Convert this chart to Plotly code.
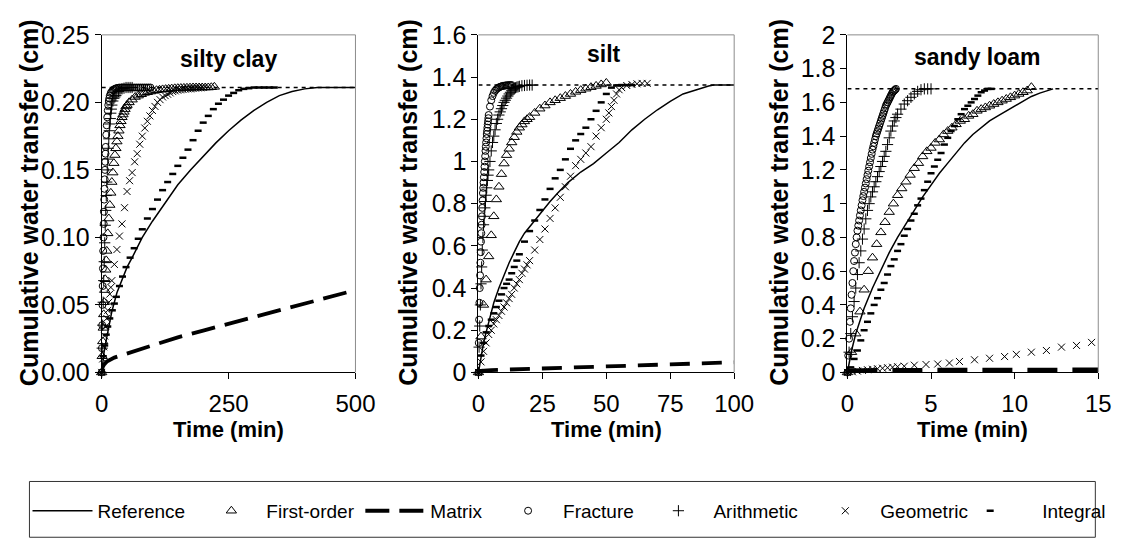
import plotly.graph_objects as go

W, H = 1129, 541

# ---------------- data: silty clay (panel 1) ----------------
SC_EQ = 0.211
sc_ref_t = [0, 2, 5, 10, 20, 30, 40, 50, 60, 80, 100, 125, 150, 175, 200, 225, 250, 275, 300, 325, 350, 375, 400, 425, 450, 500]
sc_ref_y = [0, 0.008, 0.016, 0.026, 0.045, 0.059, 0.069, 0.078, 0.085, 0.100, 0.112, 0.126, 0.139, 0.150, 0.160, 0.170, 0.179, 0.187, 0.194, 0.200, 0.205, 0.208, 0.210, 0.211, 0.211, 0.211]
sc_mat_t = [0, 2, 5, 10, 25, 50, 100, 150, 200, 250, 300, 350, 400, 450, 500]
sc_mat_y = [0, 0.004, 0.006, 0.008, 0.011, 0.014, 0.020, 0.026, 0.031, 0.036, 0.041, 0.046, 0.051, 0.056, 0.061]
sc_frac_t = [0, 0.5, 1, 1.5, 2, 2.5, 3, 3.5, 4, 4.5, 5, 5.5, 6, 6.5, 7, 7.5, 8, 9, 10, 11, 12, 13, 14, 15, 16, 18, 20, 22, 24, 26, 28, 30, 33, 36, 40, 44, 48, 52, 56, 60, 64, 68, 72, 76, 80, 84, 88, 92, 96]
sc_frac_y = [0, 0.018, 0.035, 0.05, 0.064, 0.077, 0.09, 0.1, 0.11, 0.119, 0.128, 0.136, 0.143, 0.15, 0.156, 0.162, 0.167, 0.176, 0.183, 0.189, 0.194, 0.198, 0.201, 0.203, 0.205, 0.207, 0.208, 0.209, 0.2095, 0.21, 0.2103, 0.2106, 0.2108, 0.211, 0.211, 0.211, 0.211, 0.211, 0.211, 0.211, 0.211, 0.211, 0.211, 0.211, 0.211, 0.211, 0.211, 0.211, 0.211]
sc_arith_t = [0, 1, 2, 3, 4, 5, 6, 7, 8, 9, 10, 11, 12, 13, 14, 15, 16, 17, 18, 19, 20, 22, 24, 26, 28, 30, 33, 36, 40, 44, 48, 52, 56, 60]
sc_arith_y = [0, 0.018, 0.035, 0.052, 0.068, 0.082, 0.096, 0.109, 0.12, 0.131, 0.141, 0.15, 0.158, 0.166, 0.173, 0.179, 0.184, 0.188, 0.192, 0.195, 0.198, 0.201, 0.203, 0.204, 0.205, 0.207, 0.208, 0.209, 0.21, 0.2105, 0.211, 0.211, 0.211, 0.211]
sc_first_t = [0, 1, 2, 3, 4, 5, 6, 7, 8, 9, 10, 12, 14, 16, 18, 20, 22, 24, 26, 28, 30, 32, 34, 36, 38, 40, 42, 44, 46, 48, 50,
              54, 60, 66, 72, 78, 84, 90, 96, 102, 108, 114, 120, 126, 132, 138, 144, 150, 156, 162, 168, 174, 180, 186, 192, 198, 204, 210, 216, 222]
sc_first_y = [0, 0.012, 0.023, 0.033, 0.043, 0.052, 0.061, 0.069, 0.076, 0.083, 0.09, 0.103, 0.114, 0.124, 0.133, 0.141, 0.148, 0.155, 0.161, 0.166, 0.171, 0.175, 0.179, 0.183, 0.186, 0.189, 0.191, 0.193, 0.195, 0.197, 0.198,
              0.2, 0.202, 0.204, 0.205, 0.206, 0.207, 0.2075, 0.208, 0.2085, 0.209, 0.2093, 0.2096, 0.2098, 0.21, 0.2102, 0.2104, 0.2105, 0.2106, 0.2107, 0.2108, 0.2109, 0.211, 0.211, 0.211, 0.211, 0.211, 0.211, 0.2112, 0.2115]
sc_geo_t = [0, 2, 4, 6, 8, 10, 12, 14, 16, 18, 20, 25, 30, 35, 40, 45, 50, 55, 60, 65, 70, 75, 80, 85, 90, 95, 100, 105, 110, 115, 120,
            125, 130, 135, 140, 145, 150, 155, 160, 165, 170, 175, 180, 185, 190, 195, 200]
sc_geo_y = [0, 0.01, 0.019, 0.027, 0.034, 0.04, 0.046, 0.052, 0.058, 0.063, 0.068, 0.08, 0.091, 0.101, 0.11, 0.122, 0.134, 0.142, 0.148, 0.156, 0.162, 0.169, 0.175, 0.181, 0.186, 0.19, 0.194, 0.197, 0.2, 0.202, 0.204,
            0.205, 0.206, 0.207, 0.208, 0.2085, 0.209, 0.2093, 0.2096, 0.2098, 0.21, 0.21, 0.2103, 0.2105, 0.2107, 0.2108, 0.211]
sc_int_t = [0, 3, 6, 9, 12, 16, 21, 25, 29, 35, 41, 48, 56, 64, 72, 80, 90, 100, 110, 120, 130, 140, 150, 160, 170, 180, 190, 200, 210, 220,
            230, 240, 250, 260, 270, 280, 290, 300, 310, 320, 330, 340]
sc_int_y = [0, 0.012, 0.02, 0.028, 0.034, 0.04, 0.046, 0.051, 0.056, 0.064, 0.071, 0.078, 0.085, 0.092, 0.099, 0.106, 0.114, 0.121, 0.128, 0.135, 0.141, 0.147, 0.153, 0.159, 0.165, 0.172, 0.179, 0.185, 0.19, 0.195,
            0.199, 0.202, 0.205, 0.207, 0.209, 0.21, 0.2105, 0.211, 0.211, 0.211, 0.211, 0.211]

# ---------------- data: silt (panel 2) ----------------
SI_EQ = 1.362
si_ref_t = [0, 1, 2, 3, 4, 5, 6, 8, 10, 12, 14, 16, 18, 20, 22, 25, 28, 31, 35, 40, 45, 50, 55, 60, 65, 70, 75, 80, 85, 90, 92, 100]
si_ref_y = [0, 0.08, 0.14, 0.19, 0.24, 0.29, 0.33, 0.40, 0.46, 0.52, 0.57, 0.62, 0.66, 0.69, 0.72, 0.77, 0.81, 0.85, 0.9, 0.95, 0.99, 1.04, 1.09, 1.15, 1.2, 1.245, 1.285, 1.32, 1.34, 1.358, 1.362, 1.362]
si_mat_t = [0, 1, 5, 10, 20, 30, 40, 50, 60, 70, 80, 90, 100]
si_mat_y = [0, 0.008, 0.011, 0.013, 0.018, 0.022, 0.026, 0.03, 0.034, 0.038, 0.041, 0.045, 0.048]
si_frac_t = [0, 0.125, 0.25, 0.375, 0.5, 0.625, 0.75, 0.875, 1, 1.125, 1.25, 1.375, 1.5, 1.625, 1.75, 1.875, 2, 2.125, 2.25, 2.375, 2.5, 2.625, 2.75, 2.875, 3, 3.125, 3.25, 3.375, 3.5, 3.625, 3.75, 3.875, 4,
             4.5, 5, 5.5, 6, 6.5, 7, 7.5, 8, 8.5, 9, 9.5, 10, 10.5, 11, 11.5, 12, 12.5, 13]
si_frac_y = [0, 0.14, 0.25, 0.33, 0.4, 0.46, 0.52, 0.57, 0.62, 0.66, 0.7, 0.74, 0.78, 0.815, 0.85, 0.875, 0.9, 0.925, 0.95, 0.975, 1.0, 1.025, 1.05, 1.07, 1.09, 1.11, 1.13, 1.145, 1.16, 1.175, 1.19, 1.205, 1.22,
             1.26, 1.29, 1.31, 1.325, 1.335, 1.342, 1.347, 1.351, 1.354, 1.356, 1.358, 1.359, 1.36, 1.361, 1.361, 1.362, 1.362, 1.362]
si_arith_t = [0, 0.25, 0.5, 0.75, 1, 1.25, 1.5, 1.75, 2, 2.25, 2.5, 2.75, 3, 3.25, 3.5, 3.75, 4,
              4.5, 5, 5.5, 6, 6.5, 7, 7.5, 8, 8.5, 9, 9.5, 10, 10.5, 11, 11.5, 12, 12.5, 13, 13.5, 14, 14.5, 15, 15.5, 16, 17, 18, 19, 20, 21]
si_arith_y = [0, 0.12, 0.22, 0.32, 0.42, 0.5, 0.58, 0.64, 0.7, 0.74, 0.78, 0.81, 0.84, 0.875, 0.91, 0.935, 0.96,
              1.0, 1.05, 1.09, 1.12, 1.15, 1.18, 1.2, 1.22, 1.235, 1.25, 1.265, 1.28, 1.29, 1.3, 1.31, 1.32, 1.328, 1.335, 1.34, 1.345, 1.349, 1.352, 1.354, 1.356, 1.359, 1.36, 1.361, 1.362, 1.362]
si_first_t = [0, 1, 2, 3, 4, 5, 6, 7, 8, 9, 10, 11, 12, 13, 14, 15, 16, 17, 18, 19, 20, 22, 24, 26, 28, 30, 32, 34, 36, 38, 40, 42, 44, 46, 48, 50]
si_first_y = [0, 0.17, 0.32, 0.44, 0.55, 0.65, 0.74, 0.82, 0.88, 0.94, 0.99, 1.03, 1.06, 1.09, 1.115, 1.14, 1.16, 1.175, 1.19, 1.2, 1.21,
              1.23, 1.25, 1.265, 1.28, 1.29, 1.3, 1.31, 1.32, 1.33, 1.338, 1.345, 1.352, 1.358, 1.365, 1.372]
si_geo_t = [0, 1, 2, 3, 4, 5, 6, 7, 8, 9, 10, 11, 12, 13, 14, 15, 16, 17, 18, 19, 20, 22, 24, 26, 28, 30, 32, 34, 36, 38, 40, 42, 44, 46, 48,
            50, 51, 52, 53, 54, 55, 56, 58, 60, 62, 64, 66]
si_geo_y = [0, 0.05, 0.1, 0.14, 0.18, 0.2, 0.23, 0.25, 0.27, 0.29, 0.31, 0.33, 0.35, 0.37, 0.4, 0.42, 0.44, 0.47, 0.49, 0.51, 0.53, 0.58, 0.63, 0.68, 0.73, 0.78, 0.83, 0.88, 0.93, 0.98, 1.01, 1.04, 1.07, 1.12, 1.16,
            1.2, 1.23, 1.26, 1.29, 1.32, 1.34, 1.35, 1.36, 1.365, 1.368, 1.37, 1.37]
si_int_t = [0, 1, 2, 3, 4, 5, 6, 7, 8, 9, 10, 11, 12, 13, 14, 15, 16, 18, 20, 22, 24, 26, 28, 30, 32, 34, 36, 38, 40, 42, 44, 46, 48, 50, 52, 54, 56, 58, 60]
si_int_y = [0, 0.08, 0.14, 0.19, 0.22, 0.25, 0.28, 0.31, 0.34, 0.37, 0.4, 0.42, 0.44, 0.47, 0.5, 0.53, 0.56, 0.62, 0.67, 0.72, 0.77, 0.82, 0.87, 0.92, 0.96, 1.01, 1.06, 1.1, 1.13, 1.16, 1.2, 1.24, 1.28, 1.32, 1.35, 1.36, 1.362, 1.362, 1.362]

# ---------------- data: sandy loam (panel 3) ----------------
SL_EQ = 1.68
sl_ref_t = [0, 0.25, 0.5, 0.75, 1, 1.5, 2, 2.5, 3, 3.5, 4, 4.5, 5, 5.5, 6, 6.5, 7, 7.5, 8, 8.5, 9, 9.5, 10, 10.5, 11, 11.5, 12, 12.3]
sl_ref_y = [0, 0.13, 0.23, 0.31, 0.38, 0.5, 0.61, 0.71, 0.8, 0.88, 0.96, 1.04, 1.11, 1.18, 1.24, 1.3, 1.36, 1.41, 1.45, 1.49, 1.52, 1.55, 1.58, 1.61, 1.635, 1.655, 1.67, 1.68]
sl_mat_t = [0, 1, 2, 4, 6, 8, 10, 12, 15]
sl_mat_y = [0.008, 0.011, 0.012, 0.012, 0.013, 0.013, 0.013, 0.014, 0.014]
sl_frac_t = [0, 0.05, 0.1, 0.15, 0.2, 0.25, 0.3, 0.35, 0.4, 0.45, 0.5, 0.55, 0.6, 0.65, 0.7, 0.75, 0.8, 0.85, 0.9, 0.95,
             1.0, 1.05, 1.1, 1.15, 1.2, 1.25, 1.3, 1.35, 1.4, 1.45, 1.5, 1.55, 1.6, 1.65, 1.7, 1.75, 1.8, 1.85, 1.9, 1.95,
             2.0, 2.05, 2.1, 2.15, 2.2, 2.25, 2.3, 2.35, 2.4, 2.45, 2.5, 2.55, 2.6, 2.65, 2.7, 2.75, 2.8, 2.85, 2.9]
sl_frac_y = [0, 0.1, 0.2, 0.3, 0.38, 0.46, 0.53, 0.6, 0.66, 0.71, 0.76, 0.8, 0.84, 0.87, 0.9, 0.93, 0.96, 0.99, 1.02, 1.045,
             1.07, 1.095, 1.12, 1.145, 1.17, 1.195, 1.22, 1.245, 1.27, 1.295, 1.32, 1.34, 1.36, 1.38, 1.4, 1.415, 1.43, 1.445, 1.46, 1.475,
             1.49, 1.505, 1.52, 1.535, 1.55, 1.565, 1.58, 1.59, 1.6, 1.61, 1.62, 1.63, 1.64, 1.65, 1.66, 1.665, 1.67, 1.675, 1.68]
sl_arith_t = [0, 0.1, 0.2, 0.3, 0.4, 0.5, 0.6, 0.7, 0.8, 0.9, 1.0, 1.1, 1.2, 1.3, 1.4, 1.5, 1.6, 1.7, 1.8, 1.9, 2.0, 2.1, 2.2, 2.3, 2.4, 2.5, 2.6, 2.7, 2.8, 2.9, 3.0,
              3.2, 3.4, 3.6, 3.8, 4.0, 4.2, 4.4, 4.6, 4.8, 5.0]
sl_arith_y = [0, 0.12, 0.23, 0.33, 0.42, 0.5, 0.58, 0.65, 0.72, 0.79, 0.85, 0.91, 0.96, 1.0, 1.04, 1.07, 1.1, 1.13, 1.16, 1.19, 1.22, 1.25, 1.28, 1.31, 1.35, 1.39, 1.43, 1.46, 1.49, 1.51, 1.53,
              1.56, 1.59, 1.61, 1.63, 1.65, 1.665, 1.675, 1.68, 1.68, 1.68]
sl_first_t = [0, 0.25, 0.5, 0.75, 1, 1.25, 1.5, 1.75, 2, 2.25, 2.5, 2.75, 3, 3.25, 3.5, 3.75, 4, 4.25, 4.5, 4.75, 5, 5.25, 5.5, 5.75,
              6, 6.25, 6.5, 6.75, 7, 7.25, 7.5, 7.75, 8, 8.25, 8.5, 8.75, 9, 9.25, 9.5, 9.75, 10, 10.25, 10.5, 10.75, 11]
sl_first_y = [0, 0.12, 0.23, 0.36, 0.49, 0.6, 0.68, 0.76, 0.83, 0.89, 0.95, 1.0, 1.05, 1.09, 1.13, 1.17, 1.21, 1.24, 1.28, 1.31, 1.33, 1.36, 1.38, 1.41,
              1.43, 1.45, 1.47, 1.49, 1.5, 1.52, 1.53, 1.55, 1.56, 1.57, 1.58, 1.59, 1.6, 1.61, 1.62, 1.63, 1.64, 1.65, 1.66, 1.67, 1.69]
sl_geo_t = [0, 0.3, 0.6, 0.9, 1.2, 1.5, 1.8, 2.1, 2.4, 2.7, 3.0, 3.4, 4.0, 4.7, 5.4, 6.1, 6.7, 7.6, 8.5, 9.4, 10.1, 11.0, 11.9, 12.8, 13.7, 14.6]
sl_geo_y = [0, 0.004, 0.008, 0.012, 0.016, 0.019, 0.022, 0.025, 0.028, 0.031, 0.034, 0.037, 0.043, 0.047, 0.05, 0.056, 0.065, 0.075, 0.084, 0.094, 0.107, 0.12, 0.13, 0.15, 0.16, 0.178]
sl_int_t = [0, 0.2, 0.4, 0.6, 0.8, 1.0, 1.2, 1.4, 1.6, 1.8, 2.0, 2.2, 2.4, 2.6, 2.8, 3.0, 3.2, 3.4, 3.6, 3.8, 4.0, 4.2,
            4.4, 4.6, 4.8, 5.0, 5.2, 5.4, 5.6, 5.8, 6.0, 6.2, 6.4, 6.6, 6.8, 7.0, 7.2, 7.4, 7.6, 7.8, 8.0, 8.2, 8.4, 8.6]
sl_int_y = [0, 0.03, 0.08, 0.13, 0.19, 0.25, 0.3, 0.35, 0.4, 0.44, 0.49, 0.53, 0.58, 0.63, 0.67, 0.72, 0.76, 0.81, 0.85, 0.9, 0.94, 0.99,
            1.03, 1.08, 1.13, 1.18, 1.22, 1.26, 1.3, 1.35, 1.39, 1.43, 1.46, 1.5, 1.53, 1.56, 1.58, 1.6, 1.62, 1.64, 1.66, 1.67, 1.68, 1.68]

PANEL_TITLES = ["silty clay", "silt", "sandy loam"]
X_MAX = [500, 100, 15]
Y_MAX = [0.25, 1.6, 2.0]
X_DTICK = [250, 25, 5]
Y_DTICK = [0.05, 0.2, 0.2]
SERIES_NAMES = ["Reference", "First-order", "Matrix", "Fracture", "Arithmetic", "Geometric", "Integral"]

panels = [
    dict(eq=SC_EQ, ref=(sc_ref_t, sc_ref_y), mat=(sc_mat_t, sc_mat_y), frac=(sc_frac_t, sc_frac_y),
         arith=(sc_arith_t, sc_arith_y), first=(sc_first_t, sc_first_y), geo=(sc_geo_t, sc_geo_y), integ=(sc_int_t, sc_int_y),
         matdash="24px,10px", matw=3.8),
    dict(eq=SI_EQ, ref=(si_ref_t, si_ref_y), mat=(si_mat_t, si_mat_y), frac=(si_frac_t, si_frac_y),
         arith=(si_arith_t, si_arith_y), first=(si_first_t, si_first_y), geo=(si_geo_t, si_geo_y), integ=(si_int_t, si_int_y),
         matdash="20px,12px", matw=3.8),
    dict(eq=SL_EQ, ref=(sl_ref_t, sl_ref_y), mat=(sl_mat_t, sl_mat_y), frac=(sl_frac_t, sl_frac_y),
         arith=(sl_arith_t, sl_arith_y), first=(sl_first_t, sl_first_y), geo=(sl_geo_t, sl_geo_y), integ=(sl_int_t, sl_int_y),
         matdash="30px,15px", matw=5),
]

FONT = "Liberation Sans, Arial, sans-serif"
BLACK = "black"

X_DOM = [(97, 357), (483, 745), (861, 1118)]
Y_DOM = (22, 378)

fig = go.Figure()

marker_styles = {
    "First-order": dict(symbol="triangle-up-open", size=9, color=BLACK, line=dict(width=1, color=BLACK)),
    "Fracture": dict(symbol="circle-open", size=7, color=BLACK, line=dict(width=1, color=BLACK)),
    "Arithmetic": dict(symbol="cross-thin", size=8, color=BLACK, line=dict(width=1, color=BLACK)),
    "Geometric": dict(symbol="x-thin", size=7, color=BLACK, line=dict(width=1, color=BLACK)),
    "Integral": dict(symbol="line-ew", size=5, color=BLACK, line=dict(width=2.5, color=BLACK)),
}
legend_ids = {n: ("legend" if i == 0 else f"legend{i+1}") for i, n in enumerate(SERIES_NAMES)}

for i, p in enumerate(panels):
    xa = "x" if i == 0 else f"x{i+1}"
    ya = "y" if i == 0 else f"y{i+1}"
    first = (i == 0)
    fig.add_trace(go.Scatter(x=[0, X_MAX[i]], y=[p["eq"], p["eq"]], mode="lines",
                             line=dict(color=BLACK, width=1.5, dash="4px,4px"),
                             xaxis=xa, yaxis=ya, showlegend=False, hoverinfo="skip"))
    fig.add_trace(go.Scatter(x=p["mat"][0], y=p["mat"][1], mode="lines", name="Matrix",
                             line=dict(color=BLACK, width=p["matw"], dash=p["matdash"]),
                             xaxis=xa, yaxis=ya, legendgroup="Matrix", showlegend=first,
                             legend=legend_ids["Matrix"], cliponaxis=False))
    fig.add_trace(go.Scatter(x=p["ref"][0], y=p["ref"][1], mode="lines", name="Reference",
                             line=dict(color=BLACK, width=1.5),
                             xaxis=xa, yaxis=ya, legendgroup="Reference", showlegend=first,
                             legend=legend_ids["Reference"], cliponaxis=False))
    for key, name in [("integ", "Integral"), ("geo", "Geometric"), ("first", "First-order"),
                      ("arith", "Arithmetic"), ("frac", "Fracture")]:
        fig.add_trace(go.Scatter(x=p[key][0], y=p[key][1], mode="markers", name=name,
                                 marker=marker_styles[name],
                                 xaxis=xa, yaxis=ya, legendgroup=name, showlegend=first,
                                 legend=legend_ids[name], cliponaxis=False))

layout = dict(
    width=W, height=H, margin=dict(l=0, r=0, t=0, b=0),
    paper_bgcolor="white", plot_bgcolor="white",
    font=dict(family=FONT, color=BLACK, size=19),
    showlegend=True,
)

for i in range(3):
    xk = "xaxis" if i == 0 else f"xaxis{i+1}"
    yk = "yaxis" if i == 0 else f"yaxis{i+1}"
    x0, x1 = X_DOM[i]
    layout[xk] = dict(domain=[x0 / W, x1 / W], range=[0, X_MAX[i]], dtick=X_DTICK[i], tick0=0,
                      showline=True, linecolor=BLACK, linewidth=1, ticks="outside", ticklen=6,
                      tickcolor=BLACK, showgrid=False, zeroline=False, ticklabelstandoff=4,
                      tickfont=dict(size=24, family=FONT, color=BLACK),
                      anchor="y" if i == 0 else f"y{i+1}")
    layout[yk] = dict(domain=[1 - Y_DOM[1] / H, 1 - Y_DOM[0] / H], range=[0, Y_MAX[i]], dtick=Y_DTICK[i], tick0=0,
                      showline=True, linecolor=BLACK, linewidth=1, ticks="outside", ticklen=6,
                      tickcolor=BLACK, showgrid=False, zeroline=False,
                      tickfont=dict(size=25, family=FONT, color=BLACK),
                      tickformat=".2f" if i == 0 else "",
                      anchor="x" if i == 0 else f"x{i+1}")

legend_left_px = {"Reference": 21, "First-order": 194, "Matrix": 362, "Fracture": 498,
                  "Arithmetic": 652, "Geometric": 823, "Integral": 954}
legend_itemw = {"Integral": 94}
for name in SERIES_NAMES:
    lid = legend_ids[name]
    layout[lid] = dict(x=legend_left_px[name] / W, xanchor="left", y=1 - 524 / H, yanchor="middle",
                       orientation="h", bgcolor="rgba(0,0,0,0)", borderwidth=0,
                       itemwidth=legend_itemw.get(name, 60),
                       font=dict(size=19, family=FONT, color=BLACK))

fig.update_layout(**layout)

shapes = []
for i in range(3):
    xr = ("x" if i == 0 else f"x{i+1}") + " domain"
    yr = ("y" if i == 0 else f"y{i+1}") + " domain"
    shapes.append(dict(type="line", xref=xr, yref=yr, x0=0, x1=1, y0=1, y1=1, line=dict(color="#8c8c8c", width=1)))
    shapes.append(dict(type="line", xref=xr, yref=yr, x0=1, x1=1, y0=0, y1=1, line=dict(color="#8c8c8c", width=1)))
shapes.append(dict(type="rect", xref="paper", yref="paper", x0=23 / W, x1=1115 / W, y0=-0.02, y1=1 - 493 / H,
                   line=dict(color="#333333", width=1), fillcolor="rgba(0,0,0,0)"))
fig.update_layout(shapes=shapes)

ann = []
title_px = [(227, 47), (612, 42), (994, 45)]
ytitle_x = [22, 411, 791]
for i in range(3):
    x0, x1 = X_DOM[i]
    ann.append(dict(text=PANEL_TITLES[i], x=title_px[i][0] / W, y=1 - title_px[i][1] / H, xref="paper", yref="paper",
                    showarrow=False, xanchor="center", yanchor="middle",
                    font=dict(size=23, family=FONT, color=BLACK, weight="bold")))
    ann.append(dict(text="Time (min)", x=(x0 + x1) / 2 / W, y=1 - 438 / H, xref="paper", yref="paper",
                    showarrow=False, xanchor="center", yanchor="middle",
                    font=dict(size=22, family=FONT, color=BLACK, weight="bold")))
    ann.append(dict(text="Cumulative water transfer (cm)", x=ytitle_x[i] / W, y=1 - 199 / H, xref="paper", yref="paper",
                    showarrow=False, xanchor="center", yanchor="middle", textangle=-90,
                    font=dict(size=25, family=FONT, color=BLACK, weight="bold")))
fig.update_layout(annotations=ann)

fig.write_html("out.html")
